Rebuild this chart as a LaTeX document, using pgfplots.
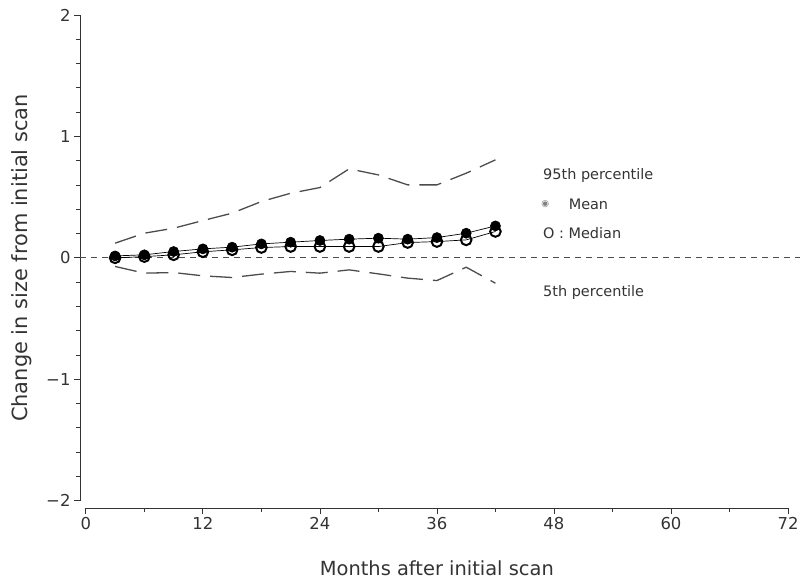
\documentclass[border=0pt]{standalone}
\usepackage{fontspec}
\setmainfont{DejaVu Sans}
\usepackage{pgfplots}
\usepackage{pgfplotstable}
\pgfplotsset{compat=1.18}

\pgfplotstableread{
m mean median p95 p5
3 0.016 0.000 0.121 -0.071
6 0.025 0.010 0.203 -0.126
9 0.052 0.025 0.244 -0.121
12 0.074 0.050 0.307 -0.148
15 0.088 0.066 0.368 -0.162
18 0.115 0.085 0.464 -0.134
21 0.129 0.093 0.532 -0.112
24 0.143 0.093 0.579 -0.126
27 0.154 0.093 0.733 -0.099
30 0.162 0.093 0.683 -0.132
33 0.154 0.126 0.601 -0.167
36 0.167 0.134 0.601 -0.187
39 0.203 0.148 0.697 -0.077
42 0.263 0.217 0.807 -0.209
}\datatab

\begin{document}
\begin{tikzpicture}
\begin{axis}[
  scale only axis, width=708bp, height=493bp,
  xmin=-0.6, xmax=72, ymin=-2.06, ymax=2,
  axis x line*=bottom, axis y line*=left,
  x axis line style={-, shorten <=5.85bp},
  y axis line style={-, shorten <=7.3bp},
  axis line style={black!80, line width=0.8pt},
  xtick={0,12,24,36,48,60,72}, minor x tick num=1,
  ytick={-2,-1,0,1,2}, minor y tick num=4,
  xticklabels={0,12,24,36,48,60,72},
  yticklabels={−2,−1,0,1,2},
  tick align=outside, major tick length=6bp, minor tick length=4bp,
  tick style={black!80, line width=0.8pt},
  ticklabel style={font=\fontsize{16.5}{19}\selectfont, text=black!80},
  xlabel={Months after initial scan},
  ylabel={Change in size from initial scan},
  xlabel style={font=\fontsize{19.5}{22}\selectfont, text=black!80, at={(axis description cs:0.504,-0.122)}, anchor=center},
  ylabel style={font=\fontsize{21}{24}\selectfont, text=black!80, at={(axis description cs:-0.082,0.507)}, anchor=center},
  clip=false,
]
\addplot[black!70, line width=1.2pt, dash pattern=on 6bp off 5bp] coordinates {(-0.6,0) (73.2,0)};
\addplot[black!70, line width=1.3pt, dash pattern=on 22bp off 10bp] table[x=m, y=p95] {\datatab};
\addplot[black!70, line width=1.3pt, dash pattern=on 22bp off 10bp] table[x=m, y=p5] {\datatab};
\addplot[black, line width=0.7pt, mark=*, mark size=5bp, mark options={solid, fill=black}] table[x=m, y=mean] {\datatab};
\addplot[black, line width=0.7pt, mark=o, mark size=5.3bp, mark options={solid, line width=2pt, fill=none}] table[x=m, y=median] {\datatab};
\node[anchor=west, inner sep=0pt, font=\fontsize{14.5}{17}\selectfont, text=black!80] at (axis cs:46.88,0.682) {95th percentile};
\node[anchor=center, inner sep=0pt, font=\fontsize{9}{9}\selectfont, text=gray] at (axis cs:47.1,0.444) {◉};
\node[anchor=west, inner sep=0pt, font=\fontsize{14.5}{17}\selectfont, text=black!80] at (axis cs:49.5,0.444) {Mean};
\node[anchor=west, inner sep=0pt, font=\fontsize{14.5}{17}\selectfont, text=black!80] at (axis cs:46.88,0.205) {O : Median};
\node[anchor=west, inner sep=0pt, font=\fontsize{14.5}{17}\selectfont, text=black!80] at (axis cs:46.88,-0.289) {5th percentile};
\end{axis}
\path ([shift={(-80bp,-75bp)}]current axis.south west) rectangle ([shift={(16bp,15bp)}]current axis.north east);
\end{tikzpicture}
\end{document}
